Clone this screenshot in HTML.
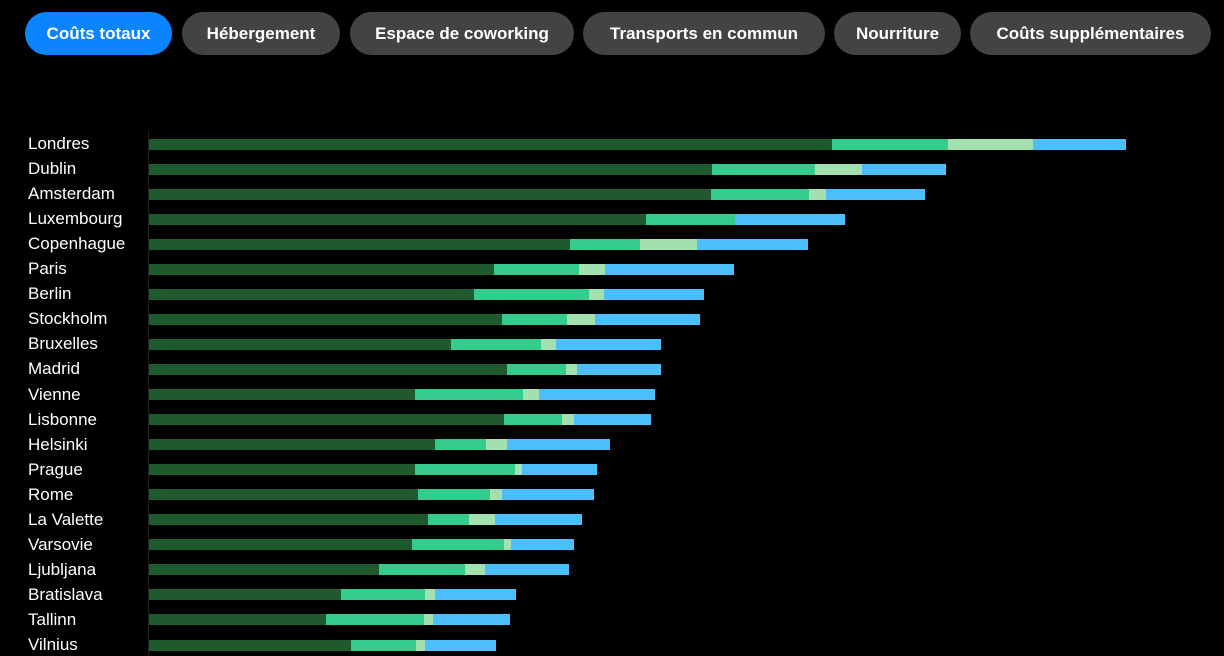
<!DOCTYPE html><html><head><style>
body{margin:0;width:1224px;height:656px;background:#000;overflow:hidden;font-family:"Liberation Sans",sans-serif;position:relative}
.b{position:absolute;top:12px;height:43px;border-radius:22px;background:#434343;color:#fff;font-weight:bold;font-size:17px;line-height:43px;text-align:center}
.l{position:absolute;left:28px;color:#fff;font-size:17px;line-height:20px}
.r{position:absolute;height:11px}
</style></head><body>
<div class="b" style="left:25px;width:147px;background:#0a84ff">Coûts totaux</div>
<div class="b" style="left:182px;width:158px">Hébergement</div>
<div class="b" style="left:350px;width:224px">Espace de coworking</div>
<div class="b" style="left:583px;width:242px">Transports en commun</div>
<div class="b" style="left:834px;width:127px">Nourriture</div>
<div class="b" style="left:970px;width:241px">Coûts supplémentaires</div>
<div style="position:absolute;left:148px;top:131px;width:1px;height:525px;background:#222"></div>
<div id="c"></div>
<script>
const d=[["Londres",832,948,1033,1126],["Dublin",712,815,862,946],["Amsterdam",711,809,826,925],["Luxembourg",646,735,735,845],["Copenhague",570,640,697,808],["Paris",494,579,605,734],["Berlin",474,589,604,704],["Stockholm",502,567,595,700],["Bruxelles",451,541,556,661],["Madrid",507,566,577,661],["Vienne",415,523,539,655],["Lisbonne",504,562,574,651],["Helsinki",435,486,507,610],["Prague",415,515,522,597],["Rome",418,490,502,594],["La Valette",428,469,495,582],["Varsovie",412,504,511,574],["Ljubljana",379,465,485,569],["Bratislava",341,425,435,516],["Tallinn",326,424,433,510],["Vilnius",351,416,425,496]];
const col=["#1f5a2e","#34cc8e","#a3e0b0","#4bbffc"];let h="";
d.forEach((r,i)=>{const cy=144+i*25.05;h+=`<div class="l" style="top:${cy-10}px">${r[0]}</div>`;let x=149;
for(let k=0;k<4;k++){const e=r[k+1];if(e>x)h+=`<div class="r" style="left:${x}px;top:${cy-5.5}px;width:${e-x}px;background:${col[k]}"></div>`;x=e;}});
document.getElementById("c").innerHTML=h;
</script>
</body></html>
